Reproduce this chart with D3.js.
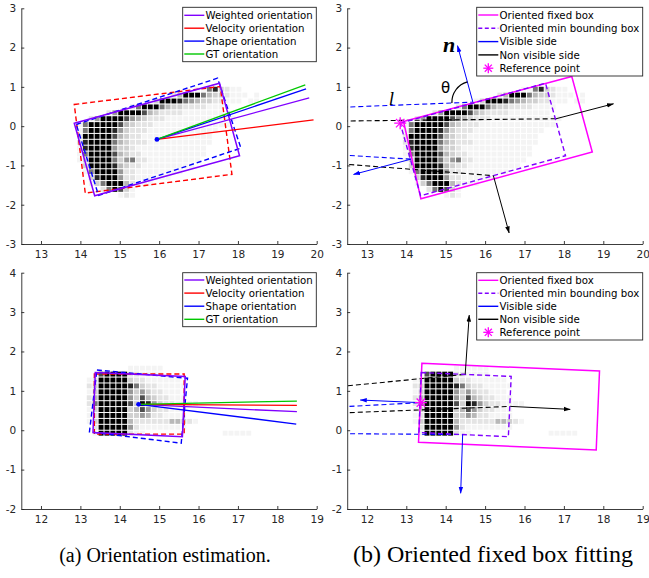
<!DOCTYPE html>
<html><head><meta charset="utf-8">
<script src="https://cdn.jsdelivr.net/npm/d3@7"></script>
<style>body{margin:0;background:#fff}svg{display:block}</style>
</head><body>
<svg id="chart" width="649" height="578"></svg>
<script>
// ================= DATA =================
const topXTicks = [13,14,15,16,17,18,19,20];
const topYTicks = [-3,-2,-1,0,1,2,3];
const botXTicks = [12,13,14,15,16,17,18,19];
const botYTicks = [-2,-1,0,1,2,3,4];

const cellSize = 0.15;
// occupancy grid (intensity 0..9, 9 = black); origin = left x / top y of first cell
const topGridOrigin = [13.9, 1.015];
const topGrid = [
 "0000000000000000000011683211000",
 "0000000000000000249996433211101",
 "0000000000001399986543322111011",
 "0000000002699964332222111100000",
 "0000025999974322221111111000000",
 "0025999975432221111111111110000",
 "1699999743222111111111111100000",
 "1699998532221111111111110000000",
 "2999997432211111111111100000000",
 "2899996432221111111111100000000",
 "1899995332111111111111000000000",
 "1699997432211111111111000000000",
 "1399996356221111111110000000000",
 "0399998432211111111100000000000",
 "0169999522111111110000000000000",
 "0038999522111111000000000000000",
 "0013699942111000000000000000000",
 "0000269731000000000000000000000",
 "0000000121000000000000000000000"
];
const botGridOrigin = [13.15, 1.65];
const botGrid = [
 "00000001111110000000000000000",
 "00799992211110000000000000000",
 "12999993221111110000000000000",
 "23999998632211111000000000000",
 "13999995353221110000000000000",
 "24999995374322111000000000000",
 "26999997398532211110000000000",
 "13999993475322111000000000000",
 "12999993354221111000000000000",
 "13999994222222443210000000000",
 "02999995211111111000000000000",
 "01999992110000000000000111110"
];

// orientation legend / colours
const orientNames  = ["Weighted orientation","Velocity orientation","Shape orientation","GT orientation"];
const orientColors = ["#8000ff","#ff0000","#0000ff","#00c800"];

// --- panel (a) top ---
const topCenter = [15.944, -0.338];
const topOrientEndX = [19.81, 19.92, 19.73, 19.71];
const topOrientEndY = [0.72, 0.16, 0.95, 1.053];
const topWeightedBox = [[13.845,0.076],[17.533,1.094],[18.041,-0.753],[14.363,-1.771]];
const topVelocityBox = [[13.845,0.552],[17.551,1.01],[17.848,-1.227],[14.124,-1.705]];
const topShapeBox    = [[13.896,0.043],[17.482,1.221],[18.076,-0.56],[14.462,-1.763]];

// --- panel (a) bottom ---
const botCenter = [14.477, 0.657];
const botOrientEndX = [18.497, 18.497, 18.48, 18.497];
const botOrientEndY = [0.47, 0.632, 0.157, 0.741];
const botWeightedBox = [[13.378,1.465],[15.662,1.367],[15.59,-0.165],[13.32,-0.058]];
const botVelocityBox = [[13.355,1.426],[15.635,1.426],[15.635,-0.1],[13.355,-0.1]];
const botShapeBox    = [[13.42,1.53],[15.72,1.32],[15.56,-0.33],[13.23,-0.04]];

// fitting legend
const fitNames = ["Oriented fixed box","Oriented min bounding box","Visible side","Non visible side","Reference point"];
const fitColors = ["#ff00ff","#8000ff","#0000ff","#000000","#ff00ff"];

// --- panel (b) top ---
const topFixedBox = [[13.93,0.12],[18.2,1.265],[18.72,-0.66],[14.37,-1.85]];
const topRefPoint = [13.845, 0.077];
const topVisibleRayEnds    = [[15.69,0.61],[14.12,-0.84]];
const topNonVisibleRayEnds = [[17.80,0.188],[16.21,-1.26]];
const topVisibleArrowTips    = [[15.30,2.05],[12.66,-1.23]];
const topNonVisibleArrowTips = [[19.26,0.57],[16.61,-2.72]];

// --- panel (b) bottom ---
const botFixedBox = [[13.396,1.698],[17.904,1.502],[17.82,-0.503],[13.31,-0.307]];
const botRefPoint = [13.37, 0.70];
const botVisibleRayEnds    = [[13.36,0.70],[14.43,-0.11]];
const botNonVisibleRayEnds = [[14.495,1.42],[15.65,0.605]];
const botVisibleArrowTips    = [[11.83,0.767],[14.38,-1.6]];
const botNonVisibleArrowTips = [[14.597,2.924],[17.16,0.53]];

const captions = ["(a) Orientation estimation.","(b) Oriented fixed box fitting"];

// ================= DRAWING =================
const svg = d3.select("#chart");
const axisColor = "#262626";
const grayColors = ["none","#f4f4f4","#e4e4e4","#d0d0d0","#b8b8b8","#999999","#777777","#4d4d4d","#262626","#000000"];
const defs = svg.append("defs");

["#000000","#0000ff"].forEach((c,i)=>{
  defs.append("marker").attr("id","arr"+i).attr("viewBox","0 -3 8 6")
    .attr("refX",7.5).attr("refY",0).attr("markerWidth",7).attr("markerHeight",6)
    .attr("markerUnits","userSpaceOnUse").attr("orient","auto")
    .append("path").attr("d","M0,-2.6L8,0L0,2.6Z").attr("fill",c);
});

const panelBoxes = [
  {left:21.3, right:316.7, top:8.3, bottom:244, xd:[12.5,20], yd:[-3,3], xt:topXTicks, yt:topYTicks},
  {left:347.2, right:642.7, top:8.3, bottom:244, xd:[12.5,20], yd:[-3,3], xt:topXTicks, yt:topYTicks},
  {left:21.3, right:316.7, top:272.7, bottom:509, xd:[11.5,19], yd:[-2,4], xt:botXTicks, yt:botYTicks},
  {left:347.2, right:642.7, top:272.7, bottom:509, xd:[11.5,19], yd:[-2,4], xt:botXTicks, yt:botYTicks}
];

function makePanel(b, idx){
  const x = d3.scaleLinear().domain(b.xd).range([b.left,b.right]);
  const y = d3.scaleLinear().domain(b.yd).range([b.bottom,b.top]);
  defs.append("clipPath").attr("id","clip"+idx).append("rect")
    .attr("x",b.left).attr("y",b.top).attr("width",b.right-b.left).attr("height",b.bottom-b.top);
  const root = svg.append("g");
  const plot = root.append("g").attr("clip-path","url(#clip"+idx+")");
  const ax = root.append("g");
  const xa = ax.append("g").attr("transform",`translate(0,${b.bottom})`)
    .call(d3.axisBottom(x).tickValues(b.xt).tickSizeInner(-3).tickSizeOuter(0).tickPadding(7).tickFormat(d3.format("d")));
  const ya = ax.append("g").attr("transform",`translate(${b.left},0)`)
    .call(d3.axisLeft(y).tickValues(b.yt).tickSizeInner(-3).tickSizeOuter(0).tickPadding(5).tickFormat(d=>d<0?"-"+Math.abs(d):d));
  [xa,ya].forEach(a=>{
    a.selectAll("path,line").attr("stroke",axisColor).attr("stroke-width",0.9);
    a.selectAll("text").attr("fill",axisColor).attr("font-family","DejaVu Sans").attr("font-size","10.5px");
  });
  return {x,y,plot,root};
}

function drawGrid(p, grid, origin){
  const cells=[];
  grid.forEach((row,r)=>{ for(let c=0;c<row.length;c++){ const v=+row[c]; if(v>0) cells.push({c,r,v}); } });
  p.plot.append("g").selectAll("rect").data(cells).join("rect")
    .attr("x",d=>p.x(origin[0]+d.c*cellSize)+0.5)
    .attr("y",d=>p.y(origin[1]-d.r*cellSize)+0.5)
    .attr("width",d=>p.x(origin[0]+(d.c+1)*cellSize)-p.x(origin[0]+d.c*cellSize)-1)
    .attr("height",d=>p.y(origin[1]-(d.r+1)*cellSize)-p.y(origin[1]-d.r*cellSize)-1)
    .attr("fill",d=>grayColors[d.v]);
}

function drawBox(p, pts, color, dash, w){
  const line = d3.line().x(d=>p.x(d[0])).y(d=>p.y(d[1])).curve(d3.curveLinearClosed);
  p.plot.append("path").attr("d",line(pts)).attr("fill","none").attr("stroke",color)
    .attr("stroke-width",w||1.5).attr("stroke-dasharray",dash?"5,3":null);
}
function drawSeg(p, a, b, color, w, dash, marker){
  p.plot.append("line").attr("x1",p.x(a[0])).attr("y1",p.y(a[1])).attr("x2",p.x(b[0])).attr("y2",p.y(b[1]))
    .attr("stroke",color).attr("stroke-width",w).attr("stroke-dasharray",dash?"5,3":null)
    .attr("marker-end",marker?`url(#${marker})`:null);
}
function star(g, cx, cy, r, color){
  [0,45,90,135].forEach(a=>{
    const t=a*Math.PI/180;
    g.append("line").attr("x1",cx-r*Math.cos(t)).attr("y1",cy-r*Math.sin(t))
      .attr("x2",cx+r*Math.cos(t)).attr("y2",cy+r*Math.sin(t))
      .attr("stroke",color).attr("stroke-width",1.3);
  });
}
function legend(l, t, w, h, names, colors, kinds, rowStart, rowStep){
  const g = svg.append("g");
  g.append("rect").attr("x",l).attr("y",t).attr("width",w).attr("height",h)
    .attr("fill","#fff").attr("stroke",axisColor).attr("stroke-width",0.9);
  names.forEach((n,i)=>{
    const yy = rowStart + i*rowStep;
    if(kinds[i]==="star") star(g, l+11.6, yy, 5, colors[i]);
    else g.append("line").attr("x1",l+1.6).attr("x2",l+21.6).attr("y1",yy).attr("y2",yy)
      .attr("stroke",colors[i]).attr("stroke-width",1.4).attr("stroke-dasharray",kinds[i]==="dash"?"4,2.5":null);
    g.append("text").attr("x",l+22.8).attr("y",yy).attr("dy","0.36em").text(n)
      .attr("font-family","DejaVu Sans").attr("font-size","10.2px").attr("fill","#000");
  });
}

const pA = makePanel(panelBoxes[0],0);
const pB = makePanel(panelBoxes[1],1);
const pC = makePanel(panelBoxes[2],2);
const pD = makePanel(panelBoxes[3],3);

// ---- orientation panels ----
function orientPanel(p, grid, origin, vBox, sBox, wBox, center, ex, ey){
  drawGrid(p, grid, origin);
  drawBox(p, vBox, orientColors[1], true, 1.4);
  drawBox(p, sBox, orientColors[2], true, 1.4);
  drawBox(p, wBox, orientColors[0], false, 1.5);
  [0,1,2,3].forEach(i=> drawSeg(p, center, [ex[i],ey[i]], orientColors[i], 1.3));
  p.plot.append("circle").attr("cx",p.x(center[0])).attr("cy",p.y(center[1])).attr("r",2.4).attr("fill","#0000ff");
}
orientPanel(pA, topGrid, topGridOrigin, topVelocityBox, topShapeBox, topWeightedBox, topCenter, topOrientEndX, topOrientEndY);
orientPanel(pC, botGrid, botGridOrigin, botVelocityBox, botShapeBox, botWeightedBox, botCenter, botOrientEndX, botOrientEndY);

// ---- fitting panels ----
function fitPanel(p, grid, origin, fixedBox, minBox, ref, visEnds, nvEnds, visTips, nvTips){
  drawGrid(p, grid, origin);
  visEnds.forEach(e=>drawSeg(p,[0,0],e,"#0000ff",1.1,true));
  nvEnds.forEach(e=>drawSeg(p,[0,0],e,"#000000",1.1,true));
  drawBox(p, fixedBox, fitColors[0], false, 1.5);
  drawBox(p, minBox, fitColors[1], true, 1.4);
  visEnds.forEach((e,i)=>drawSeg(p,e,visTips[i],"#0000ff",1,false,"arr1"));
  nvEnds.forEach((e,i)=>drawSeg(p,e,nvTips[i],"#000000",1,false,"arr0"));
  star(p.plot, p.x(ref[0]), p.y(ref[1]), 6, fitColors[4]);
}
fitPanel(pB, topGrid, topGridOrigin, topFixedBox, topWeightedBox, topRefPoint, topVisibleRayEnds, topNonVisibleRayEnds, topVisibleArrowTips, topNonVisibleArrowTips);
fitPanel(pD, botGrid, botGridOrigin, botFixedBox, botWeightedBox, botRefPoint, botVisibleRayEnds, botNonVisibleRayEnds, botVisibleArrowTips, botNonVisibleArrowTips);

// theta arc and labels in panel (b) top
{
  const c = topVisibleRayEnds[0], tip = topVisibleArrowTips[0];
  const cx=pB.x(c[0]), cy=pB.y(c[1]);
  const dx=pB.x(tip[0])-cx, dy=pB.y(tip[1])-cy, L=Math.hypot(dx,dy), r=21;
  const sx=cx-r, sy=cy+0.8, exx=cx+r*dx/L, eyy=cy+r*dy/L;
  pB.root.append("path").attr("d",`M${sx},${sy}A${r},${r} 0 0 1 ${exx},${eyy}`)
    .attr("fill","none").attr("stroke","#000").attr("stroke-width",1.2);
  pB.root.append("text").attr("x",pB.x(15.09)).attr("y",pB.y(1.88)).attr("text-anchor","middle")
    .attr("font-family","Liberation Serif").attr("font-style","italic").attr("font-weight","bold")
    .attr("font-size","22px").text("n");
  pB.root.append("text").attr("x",pB.x(13.62)).attr("y",pB.y(0.55)).attr("text-anchor","middle")
    .attr("font-family","Liberation Serif").attr("font-style","italic").attr("font-size","19px").text("l");
  pB.root.append("text").attr("x",pB.x(15.0)).attr("y",pB.y(0.84)).attr("text-anchor","middle")
    .attr("font-family","DejaVu Sans").attr("font-size","15px").text("θ");
}

// legends
const kindsA = ["line","line","line","line"];
const kindsB = ["line","dash","line","line","star"];
legend(182.7, 7.3, 133.6, 54.4, orientNames, orientColors, kindsA, 15.3, 12.9);
legend(476.7, 7.3, 166, 68.7, fitNames, fitColors, kindsB, 15.0, 13.3);
legend(182.7, 272.7, 133.6, 54.0, orientNames, orientColors, kindsA, 280.0, 13.1);
legend(476.7, 272.7, 166, 67.3, fitNames, fitColors, kindsB, 280.3, 13.0);

// captions
const captionX = [165, 493], captionSize = [20, 24];
captionX.forEach((cx,i)=>{
  svg.append("text").attr("x",cx).attr("y",562).attr("text-anchor","middle")
    .attr("font-family","Liberation Serif").attr("font-size",captionSize[i]+"px").attr("fill","#000").text(captions[i]);
});
</script>
</body></html>
